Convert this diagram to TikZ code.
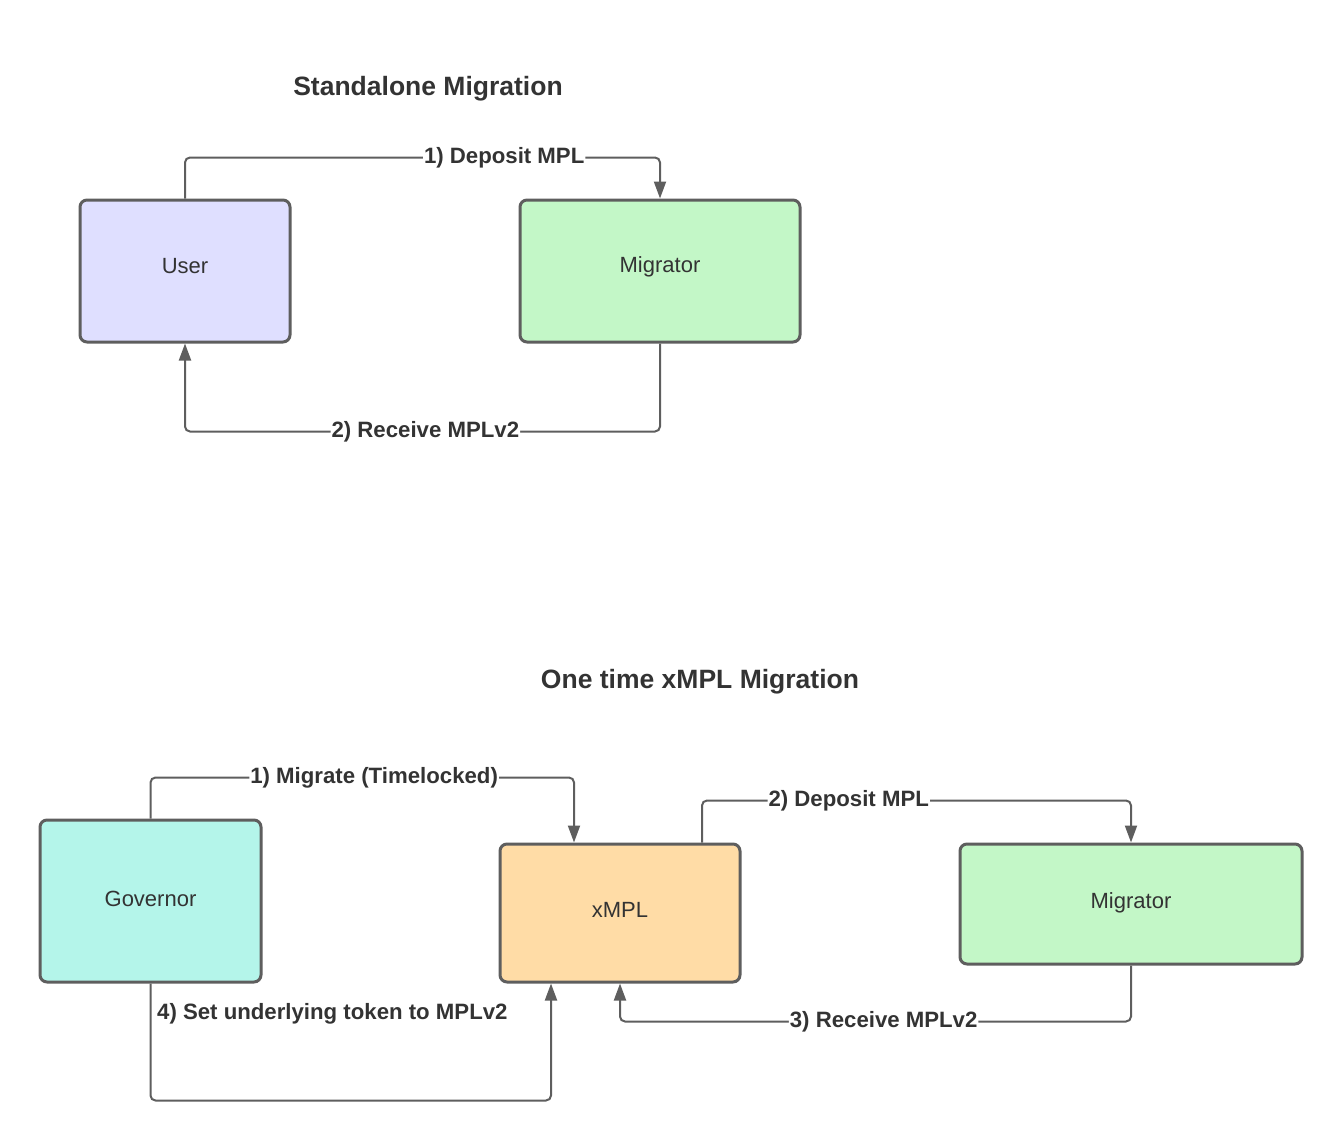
\documentclass[tikz,border=0pt]{standalone}
\usepackage{fontspec}
\setmainfont{Liberation Sans}
\usetikzlibrary{arrows.meta}
\definecolor{txt}{HTML}{333333}
\definecolor{edge}{HTML}{5E5E5E}
\definecolor{userfill}{HTML}{DFDFFF}
\definecolor{migfill}{HTML}{C3F7C7}
\definecolor{govfill}{HTML}{B4F5EA}
\definecolor{xmplfill}{HTML}{FFDCA6}
\tikzset{
  box/.style={draw=edge, line width=3pt, rounded corners=7pt, text=txt,
    font=\fontsize{22}{24}\selectfont, inner sep=0pt},
  boxtext/.style={text=txt, font=\fontsize{22}{24}\selectfont, inner sep=0pt},
  conn/.style={draw=edge, line width=2pt, rounded corners=5pt},
  arr/.style={-{Triangle[width=12pt,length=17pt]}},
  lab/.style={fill=white, text=txt, inner sep=1pt,
    font=\fontsize{22.2}{24}\selectfont\bfseries},
  title/.style={text=txt, font=\fontsize{26.5}{30}\selectfont\bfseries}
}
\begin{document}
\begin{tikzpicture}[x=1pt,y=-1pt]
\useasboundingbox (0,0) rectangle (1343,1140);
\node[title] (t1) at (428,89) {Standalone Migration};
\node[title] (t2) at (700,682) {One time xMPL Migration};

\node[box, fill=userfill, minimum width=210pt, minimum height=142pt] (user) at (185,271) {};
\node[box, fill=migfill, minimum width=280pt, minimum height=142pt] (mig1) at (660,271) {};
\node[box, fill=govfill, minimum width=221pt, minimum height=162pt] (gov) at (150.5,901) {};
\node[box, fill=xmplfill, minimum width=240pt, minimum height=138pt] (xmpl) at (620,913) {};
\node[box, fill=migfill, minimum width=342pt, minimum height=120pt] (mig2) at (1131,904) {};

\node[boxtext] (usertext) at ([yshift=4.5pt]user.center) {User};
\node[boxtext] (mig1text) at ([yshift=4.5pt]mig1.center) {Migrator};
\node[boxtext] (govtext) at ([yshift=2pt]gov.center) {Governor};
\node[boxtext] (xmpltext) at ([yshift=3.5pt]xmpl.center) {xMPL};
\node[boxtext] (mig2text) at ([yshift=1pt]mig2.center) {Migrator};

\draw[conn, arr] (user.north) -- ++(0,-41) -| node[lab, pos=0.336] (l1) {1) Deposit MPL} (mig1.north);
\draw[conn, arr] (mig1.south) -- ++(0,88) -| node[lab, pos=0.247] (l2) {2) Receive MPLv2} (user.south);

\draw[conn, arr] (gov.north) -- ++(0,-41) -| node[lab, pos=0.264] (l3) {1) Migrate (Timelocked)} ([xshift=-46pt]xmpl.north);
\draw[conn, arr] ([xshift=82pt]xmpl.north) -- ++(0,-42) -| node[lab, pos=0.171] (l4) {2) Deposit MPL} (mig2.north);
\draw[conn, arr] (mig2.south) -- ++(0,56) -| node[lab, pos=0.242] (l5) {3) Receive MPLv2} (xmpl.south);
\draw[conn, arr] (gov.south) -- ++(0,117) -| ([xshift=-69pt]xmpl.south);
\node[lab, anchor=west] (l6) at (156,1014) {4) Set underlying token to MPLv2};
\end{tikzpicture}
\end{document}
